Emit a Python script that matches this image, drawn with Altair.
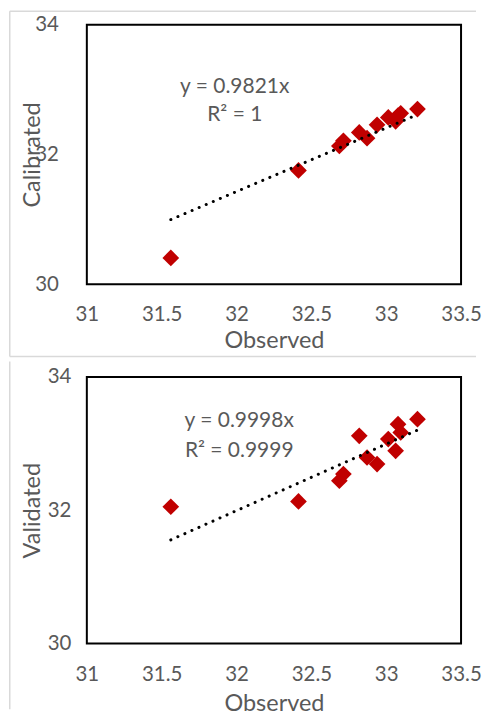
import altair as alt
import pandas as pd

# ---- data ----
observed = [31.561, 32.414, 32.687, 32.714, 32.820, 32.872, 32.939, 33.014, 33.063, 33.079, 33.097, 33.209]
calibrated = [30.405, 31.754, 32.13, 32.21, 32.34, 32.25, 32.457, 32.57, 32.51, 32.60, 32.635, 32.70]
validated = [32.052, 32.132, 32.442, 32.542, 33.116, 32.791, 32.692, 33.067, 32.891, 33.291, 33.166, 33.366]

cal_slope = 0.9821
val_slope = 0.9998
cal_eq_text = ["y = 0.9821x", "R² = 1"]
val_eq_text = ["y = 0.9998x", "R² = 0.9999"]
cal_eq_x = [31.988, 31.988]
cal_eq_y = [32.942, 32.512]
val_eq_x = [32.018, 32.018]
val_eq_y = [33.244, 32.805]

x_ticks = [31, 31.5, 32, 32.5, 33, 33.5]
y_ticks = [30, 32, 34]

FONT = "Lato"
GRAY = "#595959"
RED = "#C00000"
FRAME = "#D9D9D9"
W = 375


def panel(yvals, ytitle, slope, eq_text, eq_x, eq_y, height,
          ylab_pad, xlab_pad, xtitle_pad, frame_top, frame_bottom, draw_top, draw_bottom):
    df = pd.DataFrame({"Observed": observed, "Value": yvals})
    xs = alt.Scale(domain=[31, 33.5], nice=False, zero=False)
    ys = alt.Scale(domain=[30, 34], nice=False, zero=False)
    xax = alt.Axis(values=x_ticks, title="Observed", format="~g", labelFlush=False,
                   labelPadding=xlab_pad, titlePadding=xtitle_pad)
    yax = alt.Axis(values=y_ticks, title=ytitle, format="~g", labelFlush=False,
                   labelPadding=ylab_pad,
                   titleX=-47.5, titleBaseline="alphabetic", titleAngle=270)

    pts = alt.Chart(df).mark_point(
        shape="diamond", filled=True, size=280, color=RED, opacity=1
    ).encode(
        x=alt.X("Observed:Q", scale=xs, axis=xax),
        y=alt.Y("Value:Q", scale=ys, axis=yax),
    )
    line = alt.Chart(df).transform_calculate(
        Value=f"{slope} * datum.Observed"
    ).mark_line(
        color="black", strokeWidth=3, strokeDash=[0.1, 7.6], strokeCap="round"
    ).encode(
        x=alt.X("Observed:Q", scale=xs, axis=xax),
        y=alt.Y("Value:Q", scale=ys, axis=yax),
        order="Observed:Q",
    )
    eq_df = pd.DataFrame({"Observed": eq_x, "Value": eq_y, "t": eq_text})
    txt = alt.Chart(eq_df).mark_text(
        align="center", baseline="alphabetic", font=FONT, fontSize=21, color=GRAY
    ).encode(
        x=alt.X("Observed:Q", scale=xs, axis=xax),
        y=alt.Y("Value:Q", scale=ys, axis=yax),
        text="t:N",
    )
    one = pd.DataFrame({"k": [0]})
    layers = [alt.Chart(one).mark_rule(color=FRAME, strokeWidth=1.5).encode(
        x=alt.value(-77.25), y=alt.value(frame_top), y2=alt.value(frame_bottom))]
    if draw_top:
        layers.append(alt.Chart(one).mark_rule(color=FRAME, strokeWidth=1.5).encode(
            x=alt.value(-77.25), x2=alt.value(390), y=alt.value(frame_top)))
    if draw_bottom:
        layers.append(alt.Chart(one).mark_rule(color=FRAME, strokeWidth=1.5).encode(
            x=alt.value(-77.25), x2=alt.value(390), y=alt.value(frame_bottom)))
    layers += [pts, line, txt]
    return alt.layer(*layers).properties(width=W, height=height)


top_panel = panel(calibrated, "Calibrated", cal_slope, cal_eq_text, cal_eq_x, cal_eq_y,
                  260, 28.5, 20.5, 3, -13.5, 332.5, True, True)
bottom_panel = panel(validated, "Validated", val_slope, val_eq_text, val_eq_x, val_eq_y,
                     267, 16, 21.5, 6.5, -15.5, 333, False, False)

chart = alt.vconcat(top_panel, bottom_panel, spacing=0).properties(
    padding=0, background="white"
).configure_view(
    stroke="black", strokeWidth=2
).configure_axis(
    grid=False, ticks=False, domain=False,
    labelFont=FONT, labelFontSize=20.5, labelColor=GRAY,
    titleFont=FONT, titleFontSize=23.5, titleColor=GRAY, titleFontWeight="normal",
)

chart.save("out.html", embed_options={"renderer": "svg", "actions": False})
